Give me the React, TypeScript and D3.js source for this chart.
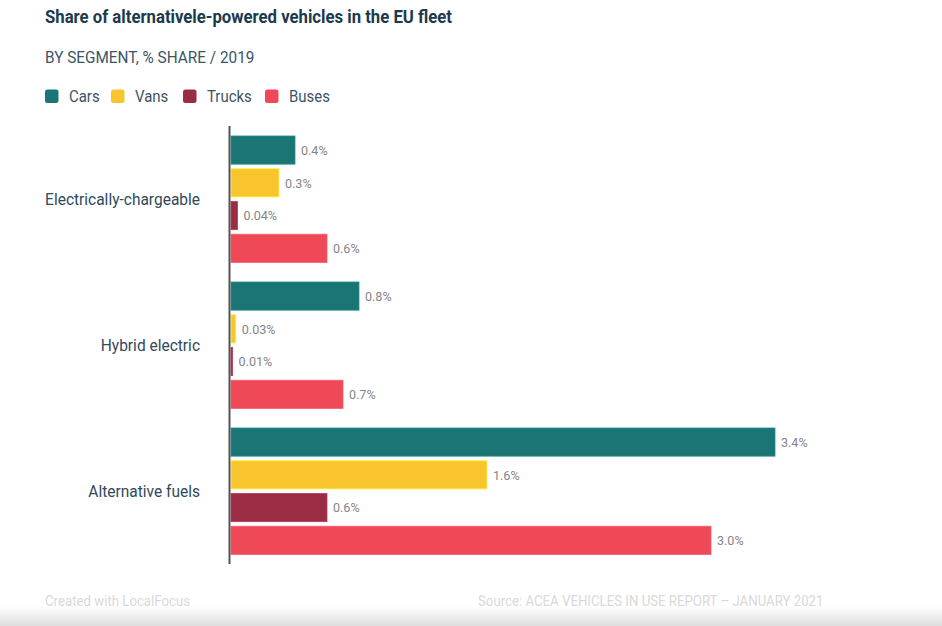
import React from "react";
import * as d3 from "d3";

const categories = ["Electrically-chargeable", "Hybrid electric", "Alternative fuels"];
const seriesNames = ["Cars", "Vans", "Trucks", "Buses"];
const cars = [0.4, 0.8, 3.4];
const vans = [0.3, 0.03, 1.6];
const trucks = [0.04, 0.01, 0.6];
const buses = [0.6, 0.7, 3.0];
const valueLabels = [
  ["0.4%", "0.3%", "0.04%", "0.6%"],
  ["0.8%", "0.03%", "0.01%", "0.7%"],
  ["3.4%", "1.6%", "0.6%", "3.0%"],
];
const colors = ["#1b7574", "#f9c52f", "#9a2c43", "#ef4856"];

const W = 942;
const H = 626;
const FONT = "Roboto, 'Open Sans', sans-serif";

function CText({ x, y, sx = 0.86, children, ...rest }: any) {
  return (
    <text transform={`translate(${x},${y}) scale(${sx},1)`} fontFamily={FONT} {...rest}>
      {children}
    </text>
  );
}

export default function App() {
  const seriesValues = [cars, vans, trucks, buses];
  const x = d3.scaleLinear().domain([0, 1]).range([231, 391]);
  const y0 = d3.scaleBand<string>().domain(categories).range([133.7, 556.7]).paddingInner(0.1027).paddingOuter(0);
  const y1 = d3
    .scaleBand<string>()
    .domain(seriesNames)
    .range([0, y0.bandwidth()])
    .paddingInner(0.14)
    .paddingOuter(0.07);

  const legendX = [45, 111, 183, 265];

  return (
    <svg width={W} height={H} style={{ position: "absolute", left: 0, top: 0 }}>
      <defs>
        <linearGradient id="bottomShade" x1="0" y1="0" x2="0" y2="1">
          <stop offset="0" stopColor="#ffffff" />
          <stop offset="1" stopColor="#dedede" />
        </linearGradient>
      </defs>
      <rect x={0} y={0} width={W} height={H} fill="#fff" />
      <rect x={0} y={606} width={W} height={20} fill="url(#bottomShade)" />

      <CText x={45} y={23} fontSize={18.5} fontWeight={700} fill="#1c3a4c" sx={0.905}>
        Share of alternativele-powered vehicles in the EU fleet
      </CText>
      <CText x={45} y={63} fontSize={16.5} fill="#3b5566" sx={0.93}>
        BY SEGMENT, % SHARE / 2019
      </CText>

      {seriesNames.map((s, i) => (
        <g key={s}>
          <rect x={legendX[i]} y={89.5} width={13.5} height={13.5} rx={2.5} fill={colors[i]} />
          <CText x={legendX[i] + 24} y={102} fontSize={17} fill="#3b5566" sx={0.88}>
            {s}
          </CText>
        </g>
      ))}

      {categories.map((c, ci) => (
        <g key={c}>
          <CText
            x={200}
            y={(y0(c) as number) + y0.bandwidth() / 2}
            dy="0.35em"
            textAnchor="end"
            fontSize={16.5}
            fill="#2f4a5a"
            sx={0.94}
          >
            {c}
          </CText>
          {seriesNames.map((s, si) => {
            const v = seriesValues[si][ci];
            const yy = (y0(c) as number) + (y1(s) as number);
            const w = x(v) - x(0);
            return (
              <g key={s}>
                <rect
                  x={x(0)}
                  y={yy}
                  width={Math.max(w, 1.2)}
                  height={y1.bandwidth()}
                  fill={colors[si]}
                  stroke={d3.color(colors[si])!.brighter(0.6).formatHex()}
                  strokeWidth={0.8}
                />
                <CText
                  x={x(v) + 6}
                  y={yy + y1.bandwidth() / 2}
                  dy="0.35em"
                  fontSize={13.5}
                  fill="#858585"
                  sx={0.93}
                >
                  {valueLabels[ci][si]}
                </CText>
              </g>
            );
          })}
        </g>
      ))}

      <line x1={229.5} x2={229.5} y1={126} y2={564} stroke="#555" strokeWidth={2} />

      <CText x={45} y={606} fontSize={14} fill="#d9d9d9" sx={0.945}>
        Created with LocalFocus
      </CText>
      <CText x={478} y={606} fontSize={14} fill="#d9d9d9" sx={0.945}>
        Source:  ACEA VEHICLES IN USE REPORT – JANUARY 2021
      </CText>
    </svg>
  );
}
